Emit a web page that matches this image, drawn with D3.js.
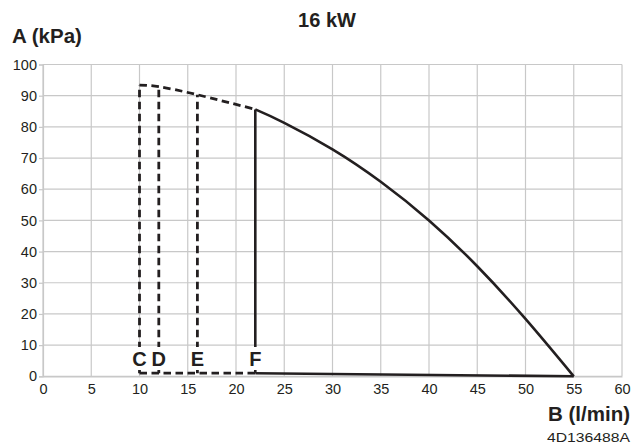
<!DOCTYPE html>
<html>
<head>
<meta charset="utf-8">
<script src="https://cdn.jsdelivr.net/npm/d3@7"></script>
<style>
  body { margin: 0; background: #fff; }
  text { font-family: "Liberation Sans", Arial, sans-serif; fill: #231f20; }
</style>
</head>
<body>
<script>
const width = 635;
const height = 444;

// tick values
const xTicks = [0, 5, 10, 15, 20, 25, 30, 35, 40, 45, 50, 55, 60];
const yTicks = [0, 10, 20, 30, 40, 50, 60, 70, 80, 90, 100];

// pump curve (solid), flow in l/min, pressure in kPa
const curveFlow = [22, 25, 30, 35, 40, 45, 50, 55];
const curvePressure = [85.6, 81.3, 72.8, 62.4, 50.0, 35.3, 18.4, 0];

// extension of curve below minimum flow (dashed)
const dashFlow = [10, 12, 16, 22];
const dashPressure = [93.4, 92.9, 90.3, 85.6];

// bottom line
const baseFlow = [10, 22, 55];
const basePressure = [1.0, 1.0, 0];

// minimum flow markers
const markerNames = ['C', 'D', 'E', 'F'];
const markerFlow = [10, 12, 16, 22];

const ink = '#231f20';
const gridColor = '#c8c8c8';

let svg = d3.select('body')
    .append('svg')
    .attr('width', width)
    .attr('height', height);

let x = d3.scaleLinear().domain([0, 60]).range([43, 622]);
let y = d3.scaleLinear().domain([0, 100]).range([376.3, 64.5]);

// grid
let grid = svg.append('g').classed('grid', true);
grid.selectAll('.vx')
    .data(xTicks)
    .enter().append('line')
    .attr('x1', d => x(d)).attr('x2', d => x(d))
    .attr('y1', y(0)).attr('y2', y(100))
    .attr('stroke', gridColor).attr('stroke-width', 1.2);
grid.selectAll('.hy')
    .data(yTicks)
    .enter().append('line')
    .attr('x1', x(0)).attr('x2', x(60))
    .attr('y1', d => y(d)).attr('y2', d => y(d))
    .attr('stroke', gridColor).attr('stroke-width', 1.2);

// axes
let yAxis = d3.axisLeft(y).tickValues(yTicks).tickSize(4).tickPadding(2);
let yAxisGroup = svg.append('g')
    .attr('transform', `translate(${x(0)},0)`)
    .call(yAxis);
let xAxis = d3.axisBottom(x).tickValues(xTicks).tickSize(0).tickPadding(7);
let xAxisGroup = svg.append('g')
    .attr('transform', `translate(0,${y(0)})`)
    .call(xAxis);

[xAxisGroup, yAxisGroup].forEach(g => {
    g.select('.domain').attr('stroke', gridColor).attr('stroke-width', 1.2);
    g.selectAll('.tick line').attr('stroke', gridColor).attr('stroke-width', 1.2);
    g.selectAll('.tick text')
        .attr('fill', ink)
        .style('font-size', '14.5px')
        .style('font-family', '"Liberation Sans", Arial, sans-serif');
});

// lines
let line = d3.line()
    .x(d => x(d[0]))
    .y(d => y(d[1]));
let smooth = d3.line()
    .x(d => x(d[0]))
    .y(d => y(d[1]))
    .curve(d3.curveNatural);

let plot = svg.append('g').classed('lines', true);
const dash = '7.5,4.5';
const dashWidth = 2.8;

// dashed vertical lines C, D, E
markerFlow.slice(0, 3).forEach((f, i) => {
    plot.append('path')
        .attr('d', line([[f, basePressure[0]], [f, dashPressure[i]]]))
        .attr('fill', 'none').attr('stroke', ink)
        .attr('stroke-width', dashWidth).attr('stroke-dasharray', dash);
});

// dashed top extension
plot.append('path')
    .attr('d', smooth(dashFlow.map((f, i) => [f, dashPressure[i]])))
    .attr('fill', 'none').attr('stroke', ink)
    .attr('stroke-width', dashWidth).attr('stroke-dasharray', dash);

// dashed bottom
plot.append('path')
    .attr('d', line([[baseFlow[0], basePressure[0]], [baseFlow[1], basePressure[1]]]))
    .attr('fill', 'none').attr('stroke', ink)
    .attr('stroke-width', dashWidth).attr('stroke-dasharray', dash);

// solid F vertical
plot.append('path')
    .attr('d', line([[markerFlow[3], basePressure[1]], [markerFlow[3], curvePressure[0]]]))
    .attr('fill', 'none').attr('stroke', ink).attr('stroke-width', 2.6);

// solid bottom
plot.append('path')
    .attr('d', line([[baseFlow[1], basePressure[1]], [baseFlow[2], basePressure[2]]]))
    .attr('fill', 'none').attr('stroke', ink).attr('stroke-width', 2.6);

// solid pump curve
plot.append('path')
    .attr('d', smooth(curveFlow.map((f, i) => [f, curvePressure[i]])))
    .attr('fill', 'none').attr('stroke', ink).attr('stroke-width', 2.6);

// marker letters on white boxes
let labels = svg.append('g').classed('markers', true);
markerNames.forEach((name, i) => {
    let g = labels.append('g');
    let bg = g.append('rect').attr('fill', '#fff');
    let t = g.append('text')
        .attr('x', x(markerFlow[i]))
        .attr('y', 366)
        .attr('text-anchor', 'middle')
        .style('font-size', '20px')
        .style('font-weight', 'bold')
        .text(name);
    let b = t.node().getBBox();
    bg.attr('x', b.x - 1.5).attr('width', b.width + 3)
        .attr('y', 347).attr('height', 23);
});

// titles
svg.append('text')
    .attr('x', 327).attr('y', 27)
    .attr('text-anchor', 'middle')
    .style('font-size', '20px').style('font-weight', 'bold')
    .text('16 kW');
svg.append('text')
    .attr('x', 12).attr('y', 43)
    .style('font-size', '20.5px').style('font-weight', 'bold')
    .text('A (kPa)');
svg.append('text')
    .attr('x', 630).attr('y', 421)
    .attr('text-anchor', 'end')
    .style('font-size', '20.5px').style('font-weight', 'bold')
    .text('B (l/min)');
svg.append('text')
    .attr('x', 547).attr('y', 441.5)
    .attr('textLength', 83)
    .attr('lengthAdjust', 'spacingAndGlyphs')
    .style('font-size', '13.5px')
    .text('4D136488A');
</script>
</body>
</html>
